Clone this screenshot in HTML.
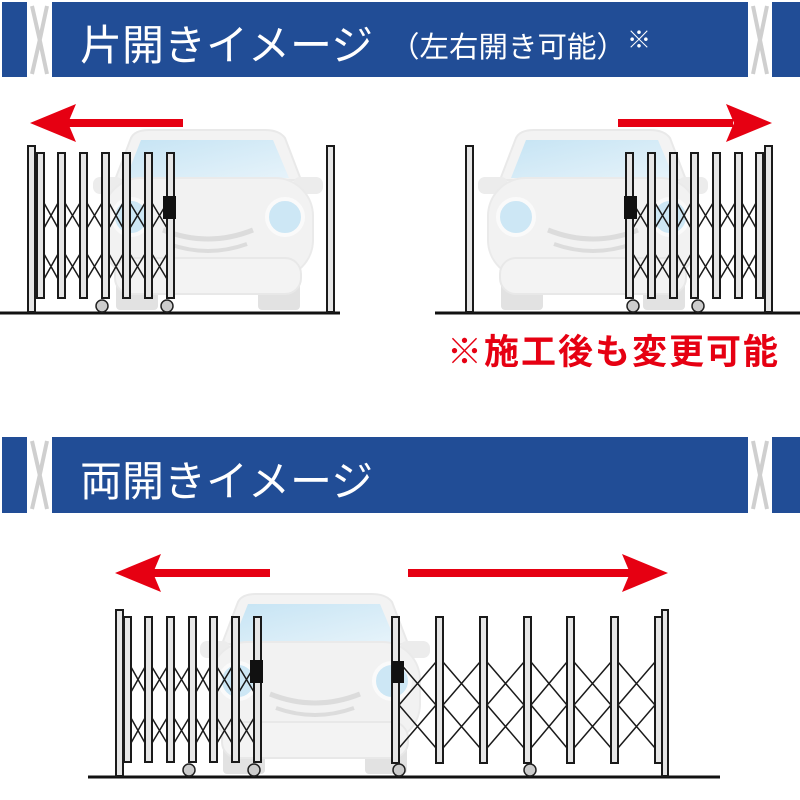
<!DOCTYPE html>
<html><head><meta charset="utf-8"><style>
html,body{margin:0;padding:0;background:#fff}
svg{display:block}
text{font-family:"Liberation Sans","Noto Sans CJK JP",sans-serif}
</style></head><body>
<svg width="800" height="800" viewBox="0 0 800 800" xmlns="http://www.w3.org/2000/svg">
<defs>
<linearGradient id="wg" x1="0" y1="0" x2="1" y2="1">
<stop offset="0" stop-color="#c6e4f4"/><stop offset="1" stop-color="#e6f3fa"/></linearGradient>
<g id="car">
<path d="M22,50 L38,8 Q42,0 56,0 L172,0 Q186,0 192,8 L208,50 Z" fill="#f3f3f3" stroke="#e9e9e9" stroke-width="2"/>
<path d="M48,10 L180,10 L196,48 L33,48 Z" fill="url(#wg)"/>
<rect x="0" y="47" width="30" height="17" rx="7" fill="#ececec"/>
<rect x="200" y="47" width="30" height="17" rx="7" fill="#ececec"/>
<rect x="23" y="138" width="42" height="42" rx="4" fill="#e2e2e2"/>
<rect x="165" y="138" width="42" height="42" rx="4" fill="#e2e2e2"/>
<rect x="10" y="48" width="210" height="100" rx="38" fill="#f2f2f2" stroke="#eaeaea" stroke-width="2"/>
<rect x="22" y="128" width="186" height="36" rx="16" fill="#f3f3f3" stroke="#e8e8e8" stroke-width="2"/>
<circle cx="38" cy="87" r="18" fill="#cde7f5" stroke="#fafafa" stroke-width="4"/>
<circle cx="192" cy="87" r="18" fill="#cde7f5" stroke="#fafafa" stroke-width="4"/>
<path d="M70,100 Q115,118 160,100" fill="none" stroke="#dcdcdc" stroke-width="5"/>
<path d="M76,114 Q115,128 154,114" fill="none" stroke="#dcdcdc" stroke-width="4"/>
</g>
<g id="cg">
<g fill="#e6e6e6" stroke="#1a1a1a" stroke-width="2">
<rect x="37" y="153" width="7" height="145"/><rect x="58" y="153" width="7" height="145"/>
<rect x="80" y="153" width="7" height="145"/><rect x="102" y="153" width="7" height="145"/>
<rect x="123" y="153" width="7" height="145"/><rect x="145" y="153" width="7" height="145"/>
<rect x="167" y="153" width="7" height="145"/>
</g>
<path fill="none" stroke="#1a1a1a" stroke-width="1.5" d="
M44,203L58,228M44,228L58,203M44,254L58,279M44,279L58,254
M65,203L80,228M65,228L80,203M65,254L80,279M65,279L80,254
M87,203L102,228M87,228L102,203M87,254L102,279M87,279L102,254
M109,203L123,228M109,228L123,203M109,254L123,279M109,279L123,254
M130,203L145,228M130,228L145,203M130,254L145,279M130,279L145,254
M152,203L167,228M152,228L167,203M152,254L167,279M152,279L167,254"/>
<rect x="163" y="196" width="13" height="23" fill="#111"/>
<circle cx="102" cy="306" r="6" fill="#ccc" stroke="#222" stroke-width="1.5"/>
<circle cx="167" cy="306" r="6" fill="#ccc" stroke="#222" stroke-width="1.5"/>
</g>
<path id="ah" d="M0,0 L46,-19 L38,0 L46,19 Z" fill="#e60012"/>
</defs>

<!-- Banner 1 -->
<rect x="2" y="2" width="25" height="75" fill="#214d96"/>
<rect x="52" y="2" width="696" height="75" fill="#214d96"/>
<rect x="772" y="2" width="28" height="75" fill="#214d96"/>
<path d="M32,6 Q40,40 47,74 M47,6 Q40,40 32,74 M753,6 Q760,40 767,74 M767,6 Q760,40 753,74" stroke="#cfcfcf" stroke-width="4" fill="none"/>
<text x="80" y="60" font-size="42" fill="#fff">片開きイメージ</text>
<text x="390" y="57" font-size="29" fill="#fff" textLength="236" lengthAdjust="spacingAndGlyphs">（左右開き可能）</text>
<text x="627" y="48" font-size="24" fill="#fff">※</text>

<!-- Top scenes -->
<use href="#car" x="93" y="130"/>
<line x1="0" y1="313" x2="340" y2="313" stroke="#111" stroke-width="3"/>
<rect x="28" y="146" width="7" height="166" fill="#e6e6e6" stroke="#1a1a1a" stroke-width="2"/>
<rect x="327" y="146" width="7" height="166" fill="#e6e6e6" stroke="#1a1a1a" stroke-width="2"/>
<use href="#cg"/>

<use href="#car" x="478" y="130"/>
<g transform="translate(800,0) scale(-1,1)">
<line x1="0" y1="313" x2="365" y2="313" stroke="#111" stroke-width="3"/>
<rect x="28" y="146" width="7" height="166" fill="#e6e6e6" stroke="#1a1a1a" stroke-width="2"/>
<rect x="327" y="146" width="7" height="166" fill="#e6e6e6" stroke="#1a1a1a" stroke-width="2"/>
<use href="#cg"/>
</g>

<!-- top arrows -->
<rect x="68" y="119" width="115" height="8" fill="#e60012"/>
<use href="#ah" transform="translate(30,123)"/>
<rect x="618" y="119" width="115" height="8" fill="#e60012"/>
<use href="#ah" transform="translate(772,123) scale(-1,1)"/>

<text x="447" y="364" font-size="35" font-weight="bold" fill="#e60012" letter-spacing="2">※施工後も変更可能</text>

<!-- Banner 2 -->
<rect x="2" y="437" width="25" height="76" fill="#214d96"/>
<rect x="52" y="437" width="696" height="76" fill="#214d96"/>
<rect x="772" y="437" width="28" height="76" fill="#214d96"/>
<path d="M32,441 Q40,475 47,509 M47,441 Q40,475 32,509 M753,441 Q760,475 767,509 M767,441 Q760,475 753,509" stroke="#cfcfcf" stroke-width="4" fill="none"/>
<text x="80" y="496" font-size="42" fill="#fff">両開きイメージ</text>

<!-- bottom arrows -->
<rect x="153" y="569" width="117" height="8" fill="#e60012"/>
<use href="#ah" transform="translate(115,573)"/>
<rect x="408" y="569" width="222" height="8" fill="#e60012"/>
<use href="#ah" transform="translate(668,573) scale(-1,1)"/>

<!-- bottom scene -->
<use href="#car" x="200" y="594"/>
<line x1="88" y1="777" x2="720" y2="777" stroke="#111" stroke-width="3"/>
<rect x="116" y="610" width="7" height="166" fill="#e6e6e6" stroke="#1a1a1a" stroke-width="2"/>
<use href="#cg" transform="translate(87,464)"/>

<g fill="#e6e6e6" stroke="#1a1a1a" stroke-width="2">
<rect x="392" y="617" width="7" height="146"/><rect x="436" y="617" width="7" height="146"/>
<rect x="480" y="617" width="7" height="146"/><rect x="524" y="617" width="7" height="146"/>
<rect x="567" y="617" width="7" height="146"/><rect x="611" y="617" width="7" height="146"/>
<rect x="655" y="617" width="7" height="146"/>
<rect x="662" y="610" width="6" height="166"/>
</g>
<path fill="none" stroke="#1a1a1a" stroke-width="1.5" d="
M399,662L436,705L399,748M436,662L399,705L436,748
M443,662L480,705L443,748M480,662L443,705L480,748
M487,662L524,705L487,748M524,662L487,705L524,748
M531,662L567,705L531,748M567,662L531,705L567,748
M574,662L611,705L574,748M611,662L574,705L611,748
M618,662L655,705L618,748M655,662L618,705L655,748"/>
<rect x="392" y="661" width="12" height="22" fill="#111"/>
<circle cx="399" cy="770" r="6" fill="#ccc" stroke="#222" stroke-width="1.5"/>
<circle cx="530" cy="770" r="6" fill="#ccc" stroke="#222" stroke-width="1.5"/>
</svg>
</body></html>
